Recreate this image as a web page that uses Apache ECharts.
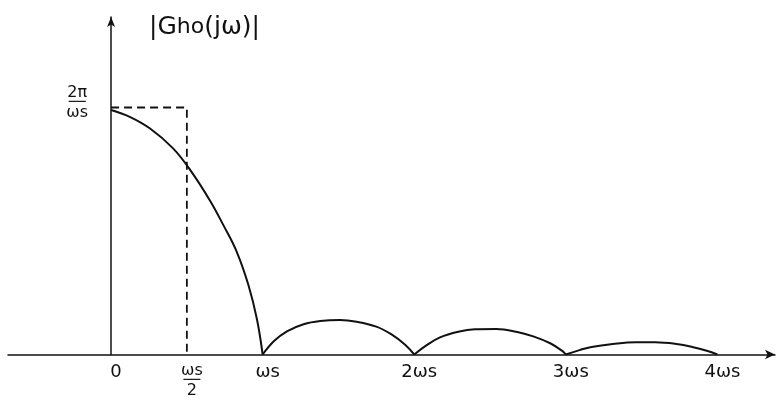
<!DOCTYPE html>
<html>
<head>
<meta charset="utf-8">
<script src="https://cdn.jsdelivr.net/npm/echarts@6/dist/echarts.min.js"></script>
<style>
html,body{margin:0;padding:0;background:#fff;}
#chart{width:778px;height:403px;}
</style>
</head>
<body>
<div id="chart"></div>
<script>
// x in units of ωs, y in units of 2π/ωs
var mainLobeX = [0, 0.123, 0.255, 0.409, 0.525, 0.652, 0.740, 0.829, 0.906, 0.962, 1.0];
var mainLobeY = [1.0, 0.972, 0.925, 0.843, 0.752, 0.630, 0.530, 0.420, 0.284, 0.145, 0];
var lobe1X = [1.0, 1.075, 1.16, 1.27, 1.38, 1.51, 1.62, 1.75, 1.85, 1.94, 2.0];
var lobe1Y = [0, 0.055, 0.095, 0.124, 0.137, 0.141, 0.134, 0.114, 0.082, 0.040, 0];
var lobe2X = [2.0, 2.08, 2.17, 2.29, 2.40, 2.54, 2.68, 2.79, 2.90, 2.98, 3.0];
var lobe2Y = [0, 0.037, 0.070, 0.093, 0.103, 0.104, 0.092, 0.073, 0.045, 0.013, 0];
var lobe3X = [3.0, 3.09, 3.17, 3.31, 3.46, 3.59, 3.73, 3.84, 3.93, 4.0];
var lobe3Y = [0, 0.018, 0.031, 0.043, 0.050, 0.050, 0.043, 0.030, 0.015, 0];
var idealX = [0, 0.5, 0.5];
var idealY = [1.01, 1.01, 0];
var xTickValues = [0, 0.5, 1, 2, 3, 4];
var xTickLabels = ['0', 'ωs/2', 'ωs', '2ωs', '3ωs', '4ωs'];
var yTickValues = [1];
var yTickLabels = ['2π/ωs'];
var yTitle = '|Gho(jω)|';

function zip(xs, ys) { return xs.map(function (x, i) { return [x, ys[i]]; }); }
function fracLabel(s) {
  var p = s.split('/');
  if (p.length === 2) return '{n|' + p[0] + '}\n{b|──}\n{d|' + p[1] + '}';
  return '{t|' + s + '}';
}

var FONT = 'DejaVu Sans';
var X_MIN = -0.68, X_MAX = 4.38;
var GRID_LEFT = 8, GRID_RIGHT = 3, W = 778;
// pixel distance from grid's left edge to x = 0, used to place the y axis on zero
var yAxisShift = (0 - X_MIN) / (X_MAX - X_MIN) * (W - GRID_LEFT - GRID_RIGHT);

var chart = echarts.init(document.getElementById('chart'), null, {renderer: 'canvas'});
var curveStyle = {color: '#111', width: 2};
function lobe(xs, ys) {
  return {type: 'line', data: zip(xs, ys), smooth: 0.4, symbol: 'none',
          lineStyle: curveStyle, silent: true, z: 3};
}
chart.setOption({
  animation: false,
  backgroundColor: '#fff',
  title: {
    text: '{a|' + yTitle.slice(0, 2) + '}{s|' + yTitle.slice(2, 4) + '}{a|' + yTitle.slice(4) + '}',
    left: 144, top: 10,
    textStyle: {
      fontWeight: 'normal',
      rich: {
        a: {fontFamily: FONT, fontSize: 25, fontWeight: 'normal', color: '#111'},
        s: {fontFamily: FONT, fontSize: 22, fontWeight: 'normal', color: '#111'}
      }
    }
  },
  grid: {left: GRID_LEFT, right: GRID_RIGHT, top: 17, bottom: 48.5, containLabel: false, outerBoundsMode: 'none'},
  xAxis: {
    type: 'value', min: X_MIN, max: X_MAX,
    axisLine: {show: true, onZero: false, lineStyle: {color: '#111', width: 1.5},
               symbol: ['none', 'arrow'], symbolSize: [7, 10]},
    axisTick: {show: false},
    splitLine: {show: false},
    axisLabel: {
      customValues: xTickValues,
      margin: 9,
      padding: [0, 0, 0, 10],
      formatter: function (v) {
        var i = xTickValues.indexOf(v);
        return i >= 0 ? fracLabel(xTickLabels[i]) : '';
      },
      rich: {
        t: {fontFamily: FONT, fontSize: 18, color: '#111'},
        n: {fontFamily: FONT, fontSize: 16, color: '#111', lineHeight: 15},
        b: {fontFamily: FONT, fontSize: 14, color: '#111', lineHeight: 4},
        d: {fontFamily: FONT, fontSize: 16, color: '#111', lineHeight: 17}
      }
    }
  },
  yAxis: {
    type: 'value', min: 0, max: 1.38,
    offset: -yAxisShift,
    axisLine: {show: true, onZero: false, lineStyle: {color: '#111', width: 1.5},
               symbol: ['none', 'arrow'], symbolSize: [6, 10]},
    axisTick: {show: false},
    splitLine: {show: false},
    axisLabel: {
      customValues: yTickValues,
      margin: 23,
      formatter: function (v) {
        var i = yTickValues.indexOf(v);
        return i >= 0 ? fracLabel(yTickLabels[i]) : '';
      },
      verticalAlign: 'middle',
      padding: [0, 0, 14, 0],
      rich: {
        n: {fontFamily: FONT, fontSize: 16, color: '#111', lineHeight: 15, align: 'center'},
        b: {fontFamily: FONT, fontSize: 14, color: '#111', lineHeight: 4, align: 'center'},
        d: {fontFamily: FONT, fontSize: 16, color: '#111', lineHeight: 16, align: 'center'}
      }
    }
  },
  series: [
    lobe(mainLobeX, mainLobeY),
    lobe(lobe1X, lobe1Y),
    lobe(lobe2X, lobe2Y),
    lobe(lobe3X, lobe3Y),
    {type: 'line', data: zip(idealX, idealY), symbol: 'none', silent: true, z: 2,
     lineStyle: {color: '#111', width: 1.8, type: [8, 5]}}
  ]
});
</script>
</body>
</html>
